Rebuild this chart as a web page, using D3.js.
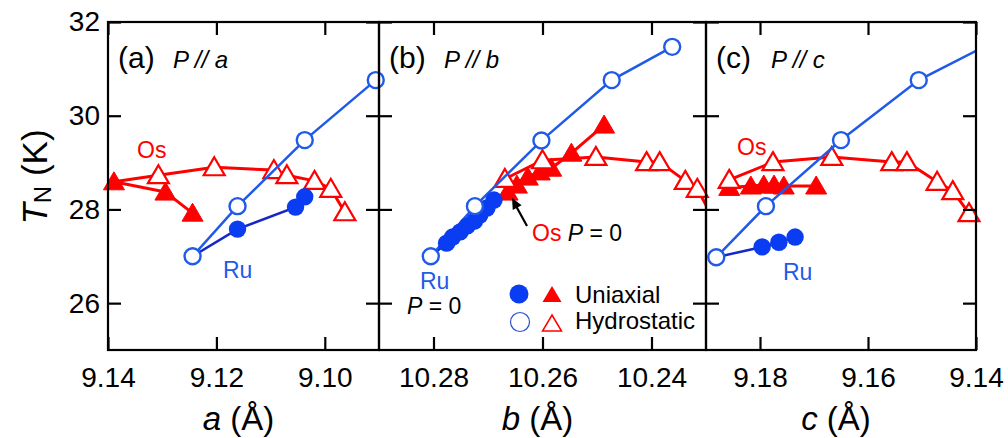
<!DOCTYPE html>
<html><head><meta charset="utf-8">
<script src="https://cdn.jsdelivr.net/npm/d3@7"></script>
<style>
body{margin:0;background:#fff}
svg{display:block}
text{font-family:Arial,"Liberation Sans",sans-serif}
</style>
</head><body>
<svg id="chart" width="1008" height="438"></svg>
<script>
// ---------- data ----------
const yTicks = [26, 28, 30, 32];
const aTicks = [9.14, 9.12, 9.10];
const bTicks = [10.28, 10.26, 10.24];
const cTicks = [9.18, 9.16, 9.14];

// panel (a): P // a
const aRuHydroX = [9.1244, 9.1161, 9.1037, 9.0906];
const aRuHydroT = [27.00, 28.07, 29.48, 30.76];
const aRuUniX = [9.1161, 9.1054, 9.1037];
const aRuUniT = [27.58, 28.05, 28.27];
const aOsUniX = [9.1389, 9.1294, 9.1244];
const aOsUniT = [28.59, 28.37, 27.92];
const aOsHydroX = [9.1307, 9.1204, 9.1094, 9.1070, 9.1019, 9.0989, 9.0963];
const aOsHydroT = [28.73, 28.90, 28.84, 28.73, 28.61, 28.44, 27.94];

// panel (b): P // b
const bRuHydroX = [10.2805, 10.2724, 10.2602, 10.2473, 10.2362];
const bRuHydroT = [27.00, 28.07, 29.47, 30.76, 31.47];
const bRuUniX = [10.2776, 10.2765, 10.2751, 10.2738, 10.2725, 10.2715, 10.2702, 10.2689];
const bRuUniT = [27.28, 27.41, 27.52, 27.65, 27.75, 27.88, 28.03, 28.20];
const bOsUniX = [10.2664, 10.2647, 10.2627, 10.2605, 10.2584, 10.2547, 10.2487];
const bOsUniT = [28.37, 28.52, 28.69, 28.80, 28.88, 29.20, 29.80];
const bOsHydroX = [10.2669, 10.2600, 10.2502, 10.2409, 10.2385, 10.2338, 10.2316, 10.2293];
const bOsHydroT = [28.65, 29.05, 29.12, 29.01, 29.01, 28.61, 28.44, 27.94];

// panel (c): P // c
const cRuHydroX = [9.1881, 9.1789, 9.1650, 9.1506, 9.1385];
const cRuHydroT = [26.98, 28.07, 29.48, 30.76, 31.47];
const cRuUniX = [9.1796, 9.1765, 9.1735];
const cRuUniT = [27.20, 27.30, 27.41];
const cOsUniX = [9.1857, 9.1817, 9.1793, 9.1774, 9.1756, 9.1696];
const cOsUniT = [28.47, 28.50, 28.52, 28.52, 28.50, 28.50];
const cOsHydroX = [9.1857, 9.1776, 9.1667, 9.1556, 9.1528, 9.1472, 9.1443, 9.1413];
const cOsHydroT = [28.63, 29.01, 29.12, 29.01, 29.01, 28.59, 28.39, 27.92];

// ---------- style ----------
const RED = "#ff0000";
const BLUE_H = "#1f5ae8";
const BLUE_F = "#0a3cf2";
const BLUE_U = "#1428c8";

const zip = (xs, ys) => xs.map((x, i) => [x, ys[i]]);

const svg = d3.select("#chart");
const plotTop = 22, plotBottom = 350;
const y = d3.scaleLinear().domain([25, 32]).range([plotBottom, plotTop]);

const panels = [
  {id:"a", x0:108, x1:379, dom:[9.14, 9.09], ticks:aTicks, label:"(a)", axisVar:"a",
   ruH:zip(aRuHydroX,aRuHydroT), ruU:zip(aRuUniX,aRuUniT), osU:zip(aOsUniX,aOsUniT), osH:zip(aOsHydroX,aOsHydroT)},
  {id:"b", x0:379, x1:706, dom:[10.29, 10.23], ticks:bTicks, label:"(b)", axisVar:"b",
   ruH:zip(bRuHydroX,bRuHydroT), ruU:zip(bRuUniX,bRuUniT), osU:zip(bOsUniX,bOsUniT), osH:zip(bOsHydroX,bOsHydroT)},
  {id:"c", x0:706, x1:976, dom:[9.19, 9.14], ticks:cTicks, label:"(c)", axisVar:"c",
   ruH:zip(cRuHydroX,cRuHydroT), ruU:zip(cRuUniX,cRuUniT), osU:zip(cOsUniX,cOsUniT), osH:zip(cOsHydroX,cOsHydroT)}
];

const defs = svg.append("defs");
const triPath = "M0,-10L10.5,8L-10.5,8Z";

panels.forEach(p => {
  const x = d3.scaleLinear().domain(p.dom).range([p.x0, p.x1]);
  const lo = Math.min(...p.dom), hi = Math.max(...p.dom);
  const inDom = d => d[0] <= hi && d[0] >= lo;
  defs.append("clipPath").attr("id", "clip-" + p.id)
    .append("rect").attr("x", p.x0).attr("y", plotTop).attr("width", p.x1 - p.x0).attr("height", plotBottom - plotTop);

  const g = svg.append("g");
  const line = d3.line().x(d => x(d[0])).y(d => y(d[1]));
  const lines = g.append("g").attr("clip-path", `url(#clip-${p.id})`);

  // Os (red)
  lines.append("path").attr("d", line([p.osU[0], ...p.osH])).attr("fill","none")
    .attr("stroke", RED).attr("stroke-width", 3).attr("stroke-linejoin","round");
  lines.append("path").attr("d", line(p.osU)).attr("fill","none")
    .attr("stroke", RED).attr("stroke-width", 3).attr("stroke-linejoin","round");

  g.append("g").selectAll("path").data(p.osU.filter(inDom)).join("path")
    .attr("d", triPath).attr("transform", d => `translate(${x(d[0])},${y(d[1])})`)
    .attr("fill", RED).attr("stroke", RED).attr("stroke-width", 1);
  g.append("g").selectAll("path").data(p.osH.filter(inDom)).join("path")
    .attr("d", triPath).attr("transform", d => `translate(${x(d[0])},${y(d[1])})`)
    .attr("fill", "#fff").attr("stroke", RED).attr("stroke-width", 2.2);

  // Ru (blue)
  const lines2 = g.append("g").attr("clip-path", `url(#clip-${p.id})`);
  lines2.append("path").attr("d", line([p.ruH[0], ...p.ruU])).attr("fill","none")
    .attr("stroke", BLUE_U).attr("stroke-width", 2.5);
  lines2.append("path").attr("d", line(p.ruH)).attr("fill","none")
    .attr("stroke", BLUE_H).attr("stroke-width", 2.5);

  g.append("g").selectAll("circle").data(p.ruU.filter(inDom)).join("circle")
    .attr("cx", d => x(d[0])).attr("cy", d => y(d[1])).attr("r", 8.7).attr("fill", BLUE_F);
  g.append("g").selectAll("circle").data(p.ruH.filter(inDom)).join("circle")
    .attr("cx", d => x(d[0])).attr("cy", d => y(d[1])).attr("r", 8)
    .attr("fill", "#fff").attr("stroke", BLUE_H).attr("stroke-width", 2.4);

  // axes (inward ticks)
  const tickLen = 13;
  const styleAxis = sel => {
    sel.select(".domain").remove();
    sel.selectAll(".tick line").attr("stroke", "#000").attr("stroke-width", 2.2);
    sel.selectAll(".tick text").attr("fill", "#000").attr("font-size", 28).attr("font-family", "Arial, 'Liberation Sans', sans-serif");
  };
  svg.append("g").attr("transform", `translate(0,${plotBottom})`)
    .call(d3.axisBottom(x).tickValues(p.ticks).tickFormat(d3.format(".2f")).tickSize(-tickLen).tickPadding(17))
    .call(styleAxis);
  svg.append("g").attr("transform", `translate(0,${plotTop})`)
    .call(d3.axisTop(x).tickValues(p.ticks).tickFormat("").tickSize(-tickLen))
    .call(styleAxis);
  svg.append("g").attr("transform", `translate(${p.x0},0)`)
    .call(d3.axisLeft(y).tickValues(yTicks).tickFormat(p.id === "a" ? d3.format("d") : "").tickSize(-tickLen).tickPadding(8))
    .call(styleAxis);
  svg.append("g").attr("transform", `translate(${p.x1},0)`)
    .call(d3.axisRight(y).tickValues(yTicks).tickFormat("").tickSize(-tickLen))
    .call(styleAxis);

  // frame
  svg.append("rect").attr("x", p.x0).attr("y", plotTop).attr("width", p.x1 - p.x0).attr("height", plotBottom - plotTop)
    .attr("fill", "none").attr("stroke", "#000").attr("stroke-width", 2.2);

  // panel label
  svg.append("text").attr("x", p.x0 + 10).attr("y", 68).attr("font-size", 30).text(p.label);
  svg.append("text").attr("x", p.x0 + 65).attr("y", 68).attr("font-size", 24).attr("font-style", "italic")
    .text("P // " + p.axisVar);

  // x axis title
  const t = svg.append("text").attr("x", (p.x0 + p.x1) / 2 - 5).attr("y", 430)
    .attr("text-anchor", "middle").attr("font-size", 33);
  t.append("tspan").attr("font-style", "italic").text(p.axisVar);
  t.append("tspan").text(" (Å)");
});

// y axis title
const yt = svg.append("text").attr("transform", "translate(47,177) rotate(-90)")
  .attr("text-anchor", "middle").attr("font-size", 35);
yt.append("tspan").attr("font-style", "italic").text("T");
yt.append("tspan").attr("font-size", 24).attr("dy", 4).text("N");
yt.append("tspan").attr("dy", -4).text(" (K)");

// annotations
const ann = (x, y0, txt, col, size) => svg.append("text").attr("x", x).attr("y", y0)
  .attr("font-size", size || 23).attr("fill", col).text(txt);
ann(137, 158, "Os", RED);
ann(223, 278, "Ru", BLUE_H);
ann(737, 155, "Os", RED);
ann(783, 280, "Ru", BLUE_H);
ann(420, 289, "Ru", BLUE_H);
const p0 = svg.append("text").attr("x", 407).attr("y", 314).attr("font-size", 23);
p0.append("tspan").attr("font-style", "italic").text("P");
p0.append("tspan").text(" = 0");
const osp = svg.append("text").attr("x", 532).attr("y", 241).attr("font-size", 23);
osp.append("tspan").attr("fill", RED).text("Os ");
osp.append("tspan").attr("font-style", "italic").text("P");
osp.append("tspan").text(" = 0");

// arrow
svg.append("line").attr("x1", 527).attr("y1", 226).attr("x2", 516).attr("y2", 206)
  .attr("stroke", "#000").attr("stroke-width", 2.2);
svg.append("path").attr("d", "M0,0L-11,-5L-11,5Z")
  .attr("transform", `translate(512,198) rotate(${Math.atan2(198-226, 512-527) * 180 / Math.PI})`)
  .attr("fill", "#000");

// legend
svg.append("circle").attr("cx", 519).attr("cy", 294).attr("r", 9.5).attr("fill", BLUE_F);
svg.append("path").attr("d", "M0,-9L9.5,7L-9.5,7Z").attr("transform", "translate(552,295)").attr("fill", RED);
svg.append("text").attr("x", 575).attr("y", 303).attr("font-size", 24).text("Uniaxial");
svg.append("circle").attr("cx", 520).attr("cy", 322).attr("r", 9.5).attr("fill", "#fff")
  .attr("stroke", "#2a4fd0").attr("stroke-width", 1.2);
svg.append("path").attr("d", "M0,-9L9.5,7L-9.5,7Z").attr("transform", "translate(552,324)")
  .attr("fill", "#fff").attr("stroke", RED).attr("stroke-width", 1.5);
svg.append("text").attr("x", 575).attr("y", 329).attr("font-size", 24).text("Hydrostatic");
</script>
</body></html>
